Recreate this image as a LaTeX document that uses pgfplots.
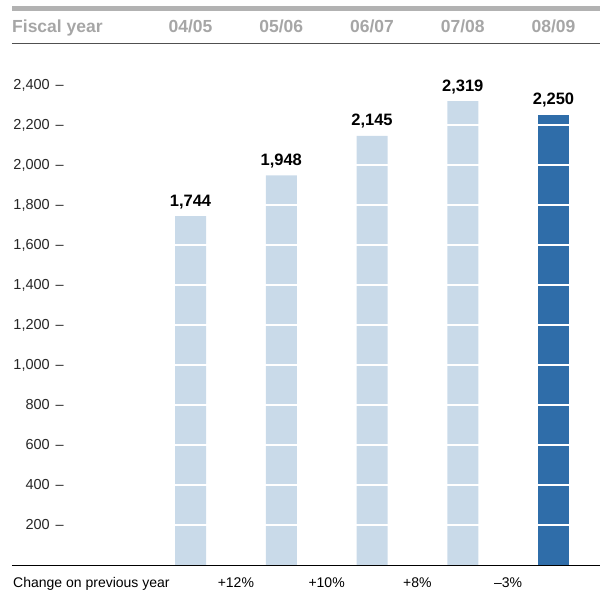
\documentclass[border=0pt]{standalone}
\usepackage{fontspec}
\setmainfont{Liberation Sans}
\usepackage{pgfplots}
\pgfplotsset{compat=1.18}
\definecolor{lightbar}{HTML}{C9DAE9}
\definecolor{darkbar}{HTML}{2F6DA9}
\definecolor{hdrgray}{HTML}{A6A6A6}
\definecolor{bandgray}{HTML}{B2B2B2}
\definecolor{linegray}{HTML}{505050}
\begin{document}
\begin{tikzpicture}
\begin{axis}[
  scale only axis, width=588pt, height=565pt,
  xmin=-1.967, xmax=4.512, ymin=0, ymax=2825,
  axis line style={draw=none}, major tick length=0pt,
  xtick=\empty,
  ytick={200,400,...,2400},
  yticklabel={\pgfmathprintnumber{\tick}\hspace{6pt}--},
  yticklabel style={anchor=east, inner sep=0pt, xshift=52pt, font=\fontsize{14.5}{16}\selectfont, text=black!85},
  /pgf/number format/.cd, 1000 sep={,}, assume math mode=true, /pgfplots/.cd,
  clip=false,
  ybar, bar width=31pt,
]
\addplot[bar shift=0pt, draw=none, fill=lightbar] coordinates {(0,1744) (1,1948) (2,2145) (3,2319)};
\addplot[bar shift=0pt, draw=none, fill=darkbar] coordinates {(4,2250)};
\pgfplotsinvokeforeach{200,400,...,2400}{
  \draw[white, line width=1.6pt] (axis cs:-0.8,#1) -- (axis cs:4.512,#1);
}
\addplot[bar shift=0pt, draw=none, fill=none, forget plot, nodes near coords,
  nodes near coords style={anchor=base, inner sep=0pt, yshift=10pt, font=\bfseries\fontsize{16.5}{18}\selectfont, text=black}]
  coordinates {(0,1744) (1,1948) (2,2145) (3,2319) (4,2250)};
% header
\fill[bandgray] (axis cs:-1.967,2770) rectangle (axis cs:4.512,2795);
\node[anchor=base west, inner sep=0pt, text=hdrgray, font=\bfseries\fontsize{17.5}{19}\selectfont] at (axis cs:-1.967,2660) {Fiscal year};
\node[anchor=base, inner sep=0pt, text=hdrgray, font=\bfseries\fontsize{17.5}{19}\selectfont] at (axis cs:0,2660) {04/05};
\node[anchor=base, inner sep=0pt, text=hdrgray, font=\bfseries\fontsize{17.5}{19}\selectfont] at (axis cs:1,2660) {05/06};
\node[anchor=base, inner sep=0pt, text=hdrgray, font=\bfseries\fontsize{17.5}{19}\selectfont] at (axis cs:2,2660) {06/07};
\node[anchor=base, inner sep=0pt, text=hdrgray, font=\bfseries\fontsize{17.5}{19}\selectfont] at (axis cs:3,2660) {07/08};
\node[anchor=base, inner sep=0pt, text=hdrgray, font=\bfseries\fontsize{17.5}{19}\selectfont] at (axis cs:4,2660) {08/09};
\draw[linegray, line width=1.5pt] (axis cs:-1.967,2607.5) -- (axis cs:4.512,2607.5);
% baseline and footer
\draw[black, line width=0.8pt] (axis cs:-1.967,0) -- (axis cs:4.512,0);
\node[anchor=base west, inner sep=0pt, font=\fontsize{14}{16}\selectfont] at (axis cs:-1.956,-115) {Change on previous year};
\node[anchor=base, inner sep=0pt, font=\fontsize{14}{16}\selectfont] at (axis cs:0.5,-115) {+12\%};
\node[anchor=base, inner sep=0pt, font=\fontsize{14}{16}\selectfont] at (axis cs:1.5,-115) {+10\%};
\node[anchor=base, inner sep=0pt, font=\fontsize{14}{16}\selectfont] at (axis cs:2.5,-115) {+8\%};
\node[anchor=base, inner sep=0pt, font=\fontsize{14}{16}\selectfont] at (axis cs:3.5,-115) {--3\%};
\coordinate (bbl) at (axis cs:-2.0992,-155);
\coordinate (btr) at (axis cs:4.5455,2825);
\end{axis}
\pgfresetboundingbox
\path[use as bounding box] (bbl) rectangle (btr);
\end{tikzpicture}
\end{document}
